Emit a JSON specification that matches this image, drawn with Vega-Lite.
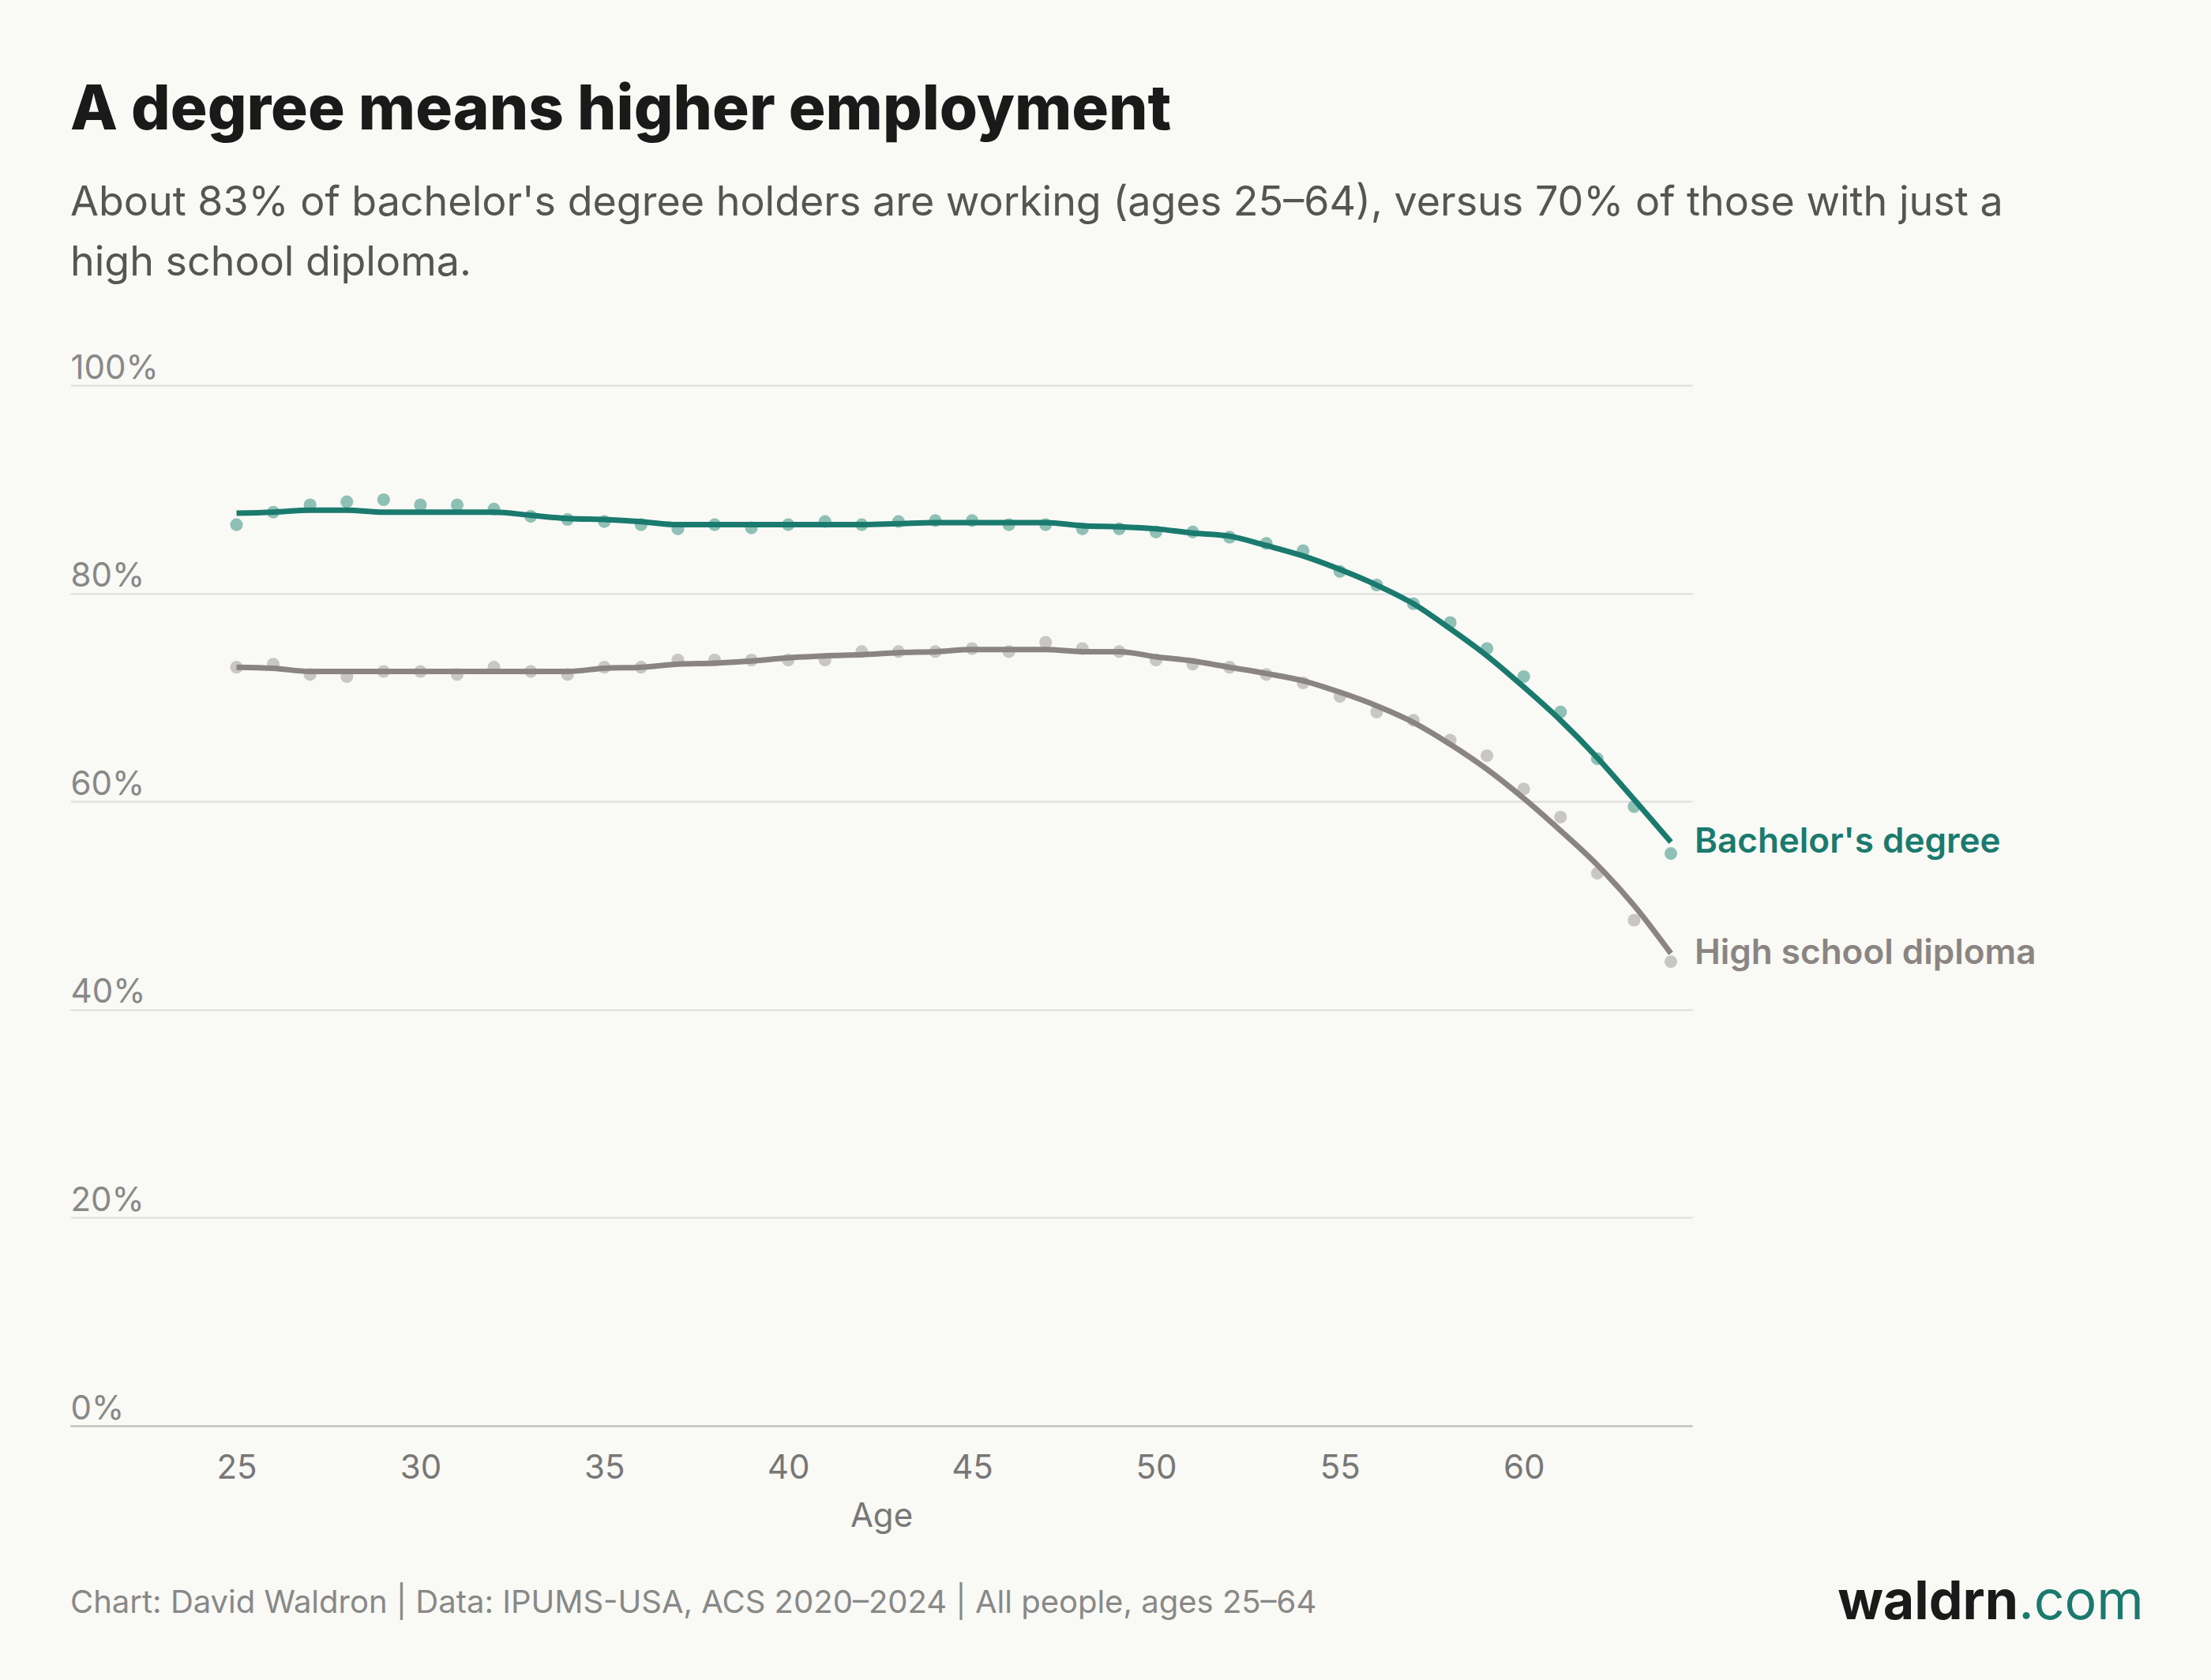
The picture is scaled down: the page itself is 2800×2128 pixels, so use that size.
{
  "$schema": "https://vega.github.io/schema/vega-lite/v6.json",
  "width": 2054,
  "height": 1318,
  "autosize": "none",
  "padding": {"left": 89, "top": 488, "right": 657, "bottom": 322},
  "background": "#f9f9f5",
  "title": {
    "text": "A degree means higher employment",
    "subtitle": ["About 83% of bachelor's degree holders are working (ages 25–64), versus 70% of those with just a", "high school diploma."],
    "anchor": "start",
    "frame": "group",
    "font": "Inter",
    "fontSize": 78,
    "fontWeight": 800,
    "color": "#1a1a1a",
    "subtitleFont": "Inter",
    "subtitleFontSize": 52,
    "subtitleColor": "#555555",
    "subtitleLineHeight": 76,
    "subtitlePadding": 52,
    "offset": 86
  },
  "datasets": {
    "emp": [
      {"age": 25, "group": "Bachelor's degree", "obs": 86.6, "fit": 87.7},
      {"age": 26, "group": "Bachelor's degree", "obs": 87.8, "fit": 87.8},
      {"age": 27, "group": "Bachelor's degree", "obs": 88.5, "fit": 88.0},
      {"age": 28, "group": "Bachelor's degree", "obs": 88.8, "fit": 88.0},
      {"age": 29, "group": "Bachelor's degree", "obs": 89.0, "fit": 87.8},
      {"age": 30, "group": "Bachelor's degree", "obs": 88.5, "fit": 87.8},
      {"age": 31, "group": "Bachelor's degree", "obs": 88.5, "fit": 87.8},
      {"age": 32, "group": "Bachelor's degree", "obs": 88.1, "fit": 87.8},
      {"age": 33, "group": "Bachelor's degree", "obs": 87.4, "fit": 87.5},
      {"age": 34, "group": "Bachelor's degree", "obs": 87.1, "fit": 87.2},
      {"age": 35, "group": "Bachelor's degree", "obs": 86.9, "fit": 87.1},
      {"age": 36, "group": "Bachelor's degree", "obs": 86.6, "fit": 86.9},
      {"age": 37, "group": "Bachelor's degree", "obs": 86.2, "fit": 86.6},
      {"age": 38, "group": "Bachelor's degree", "obs": 86.6, "fit": 86.6},
      {"age": 39, "group": "Bachelor's degree", "obs": 86.3, "fit": 86.6},
      {"age": 40, "group": "Bachelor's degree", "obs": 86.6, "fit": 86.6},
      {"age": 41, "group": "Bachelor's degree", "obs": 86.9, "fit": 86.6},
      {"age": 42, "group": "Bachelor's degree", "obs": 86.6, "fit": 86.6},
      {"age": 43, "group": "Bachelor's degree", "obs": 86.9, "fit": 86.7},
      {"age": 44, "group": "Bachelor's degree", "obs": 87.0, "fit": 86.8},
      {"age": 45, "group": "Bachelor's degree", "obs": 87.0, "fit": 86.8},
      {"age": 46, "group": "Bachelor's degree", "obs": 86.6, "fit": 86.8},
      {"age": 47, "group": "Bachelor's degree", "obs": 86.6, "fit": 86.8},
      {"age": 48, "group": "Bachelor's degree", "obs": 86.2, "fit": 86.5},
      {"age": 49, "group": "Bachelor's degree", "obs": 86.2, "fit": 86.4},
      {"age": 50, "group": "Bachelor's degree", "obs": 85.9, "fit": 86.2},
      {"age": 51, "group": "Bachelor's degree", "obs": 85.9, "fit": 85.8},
      {"age": 52, "group": "Bachelor's degree", "obs": 85.4, "fit": 85.5},
      {"age": 53, "group": "Bachelor's degree", "obs": 84.8, "fit": 84.6},
      {"age": 54, "group": "Bachelor's degree", "obs": 84.1, "fit": 83.6},
      {"age": 55, "group": "Bachelor's degree", "obs": 82.1, "fit": 82.3},
      {"age": 56, "group": "Bachelor's degree", "obs": 80.8, "fit": 80.8},
      {"age": 57, "group": "Bachelor's degree", "obs": 79.0, "fit": 79.0},
      {"age": 58, "group": "Bachelor's degree", "obs": 77.2, "fit": 76.6},
      {"age": 59, "group": "Bachelor's degree", "obs": 74.7, "fit": 74.0},
      {"age": 60, "group": "Bachelor's degree", "obs": 72.0, "fit": 71.0},
      {"age": 61, "group": "Bachelor's degree", "obs": 68.6, "fit": 67.8},
      {"age": 62, "group": "Bachelor's degree", "obs": 64.1, "fit": 64.2},
      {"age": 63, "group": "Bachelor's degree", "obs": 59.5, "fit": 60.2},
      {"age": 64, "group": "Bachelor's degree", "obs": 55.0, "fit": 56.1},
      {"age": 25, "group": "High school diploma", "obs": 72.9, "fit": 72.9},
      {"age": 26, "group": "High school diploma", "obs": 73.2, "fit": 72.8},
      {"age": 27, "group": "High school diploma", "obs": 72.2, "fit": 72.5},
      {"age": 28, "group": "High school diploma", "obs": 72.0, "fit": 72.5},
      {"age": 29, "group": "High school diploma", "obs": 72.5, "fit": 72.5},
      {"age": 30, "group": "High school diploma", "obs": 72.5, "fit": 72.5},
      {"age": 31, "group": "High school diploma", "obs": 72.2, "fit": 72.5},
      {"age": 32, "group": "High school diploma", "obs": 72.9, "fit": 72.5},
      {"age": 33, "group": "High school diploma", "obs": 72.5, "fit": 72.5},
      {"age": 34, "group": "High school diploma", "obs": 72.2, "fit": 72.5},
      {"age": 35, "group": "High school diploma", "obs": 72.9, "fit": 72.8},
      {"age": 36, "group": "High school diploma", "obs": 72.9, "fit": 72.9},
      {"age": 37, "group": "High school diploma", "obs": 73.6, "fit": 73.2},
      {"age": 38, "group": "High school diploma", "obs": 73.6, "fit": 73.3},
      {"age": 39, "group": "High school diploma", "obs": 73.6, "fit": 73.5},
      {"age": 40, "group": "High school diploma", "obs": 73.6, "fit": 73.8},
      {"age": 41, "group": "High school diploma", "obs": 73.6, "fit": 74.0},
      {"age": 42, "group": "High school diploma", "obs": 74.4, "fit": 74.1},
      {"age": 43, "group": "High school diploma", "obs": 74.4, "fit": 74.3},
      {"age": 44, "group": "High school diploma", "obs": 74.4, "fit": 74.4},
      {"age": 45, "group": "High school diploma", "obs": 74.7, "fit": 74.6},
      {"age": 46, "group": "High school diploma", "obs": 74.4, "fit": 74.6},
      {"age": 47, "group": "High school diploma", "obs": 75.3, "fit": 74.6},
      {"age": 48, "group": "High school diploma", "obs": 74.7, "fit": 74.4},
      {"age": 49, "group": "High school diploma", "obs": 74.4, "fit": 74.4},
      {"age": 50, "group": "High school diploma", "obs": 73.6, "fit": 73.9},
      {"age": 51, "group": "High school diploma", "obs": 73.2, "fit": 73.5},
      {"age": 52, "group": "High school diploma", "obs": 72.9, "fit": 72.9},
      {"age": 53, "group": "High school diploma", "obs": 72.2, "fit": 72.3},
      {"age": 54, "group": "High school diploma", "obs": 71.4, "fit": 71.6},
      {"age": 55, "group": "High school diploma", "obs": 70.1, "fit": 70.5},
      {"age": 56, "group": "High school diploma", "obs": 68.6, "fit": 69.2},
      {"age": 57, "group": "High school diploma", "obs": 67.8, "fit": 67.6},
      {"age": 58, "group": "High school diploma", "obs": 65.9, "fit": 65.5},
      {"age": 59, "group": "High school diploma", "obs": 64.4, "fit": 63.1},
      {"age": 60, "group": "High school diploma", "obs": 61.2, "fit": 60.3},
      {"age": 61, "group": "High school diploma", "obs": 58.5, "fit": 57.2},
      {"age": 62, "group": "High school diploma", "obs": 53.1, "fit": 53.9},
      {"age": 63, "group": "High school diploma", "obs": 48.6, "fit": 50.0},
      {"age": 64, "group": "High school diploma", "obs": 44.6, "fit": 45.4}
    ]
  },
  "data": {"name": "emp"},
  "encoding": {
    "x": {
      "field": "age",
      "type": "quantitative",
      "title": "Age",
      "scale": {"domain": [20.48, 64.58], "nice": false, "zero": false},
      "axis": {
        "values": [25, 30, 35, 40, 45, 50, 55, 60],
        "grid": false,
        "ticks": false,
        "domainColor": "#bbbbbb",
        "domainWidth": 2,
        "labelFontSize": 42,
        "labelColor": "#777777",
        "labelPadding": 33,
        "titleFontSize": 42,
        "titleFontWeight": "normal",
        "titleColor": "#777777",
        "titlePadding": 20
      }
    },
    "y": {
      "field": "fit",
      "type": "quantitative",
      "title": null,
      "scale": {"domain": [0, 100], "nice": false},
      "axis": {
        "values": [0, 20, 40, 60, 80, 100],
        "labelExpr": "datum.value + '%'",
        "domain": false,
        "ticks": false,
        "gridColor": "#dddddd",
        "gridWidth": 2,
        "labelAlign": "left",
        "labelBaseline": "bottom",
        "labelPadding": 0,
        "labelDy": -10,
        "labelFontSize": 42,
        "labelColor": "#888888"
      }
    },
    "color": {
      "field": "group",
      "type": "nominal",
      "legend": null,
      "scale": {"domain": ["Bachelor's degree", "High school diploma"], "range": ["#1a7a6e", "#8a8582"]}
    }
  },
  "layer": [
    {
      "mark": {"type": "circle", "size": 260, "opacity": 1},
      "encoding": {
        "y": {"field": "obs", "type": "quantitative"},
        "color": {
          "field": "group",
          "type": "nominal",
          "legend": null,
          "scale": {"domain": ["Bachelor's degree", "High school diploma"], "range": ["#8fc0b6", "#c9c7c3"]}
        }
      }
    },
    {
      "mark": {"type": "line", "strokeWidth": 7, "interpolate": "monotone"},
      "encoding": {"detail": {"field": "group"}}
    },
    {
      "transform": [{"filter": "datum.age == 64"}],
      "mark": {"type": "text", "align": "left", "dx": 30, "fontSize": 44, "fontWeight": 600, "font": "Inter"},
      "encoding": {"text": {"field": "group"}}
    },
    {
      "data": {"values": [{"x": 20.48, "y": -17.1, "t": "Chart: David Waldron | Data: IPUMS-USA, ACS 2020–2024 | All people, ages 25–64"}]},
      "mark": {"type": "text", "align": "left", "fontSize": 40, "font": "Inter"},
      "encoding": {"x": {"field": "x", "type": "quantitative"}, "y": {"field": "y", "type": "quantitative"}, "text": {"field": "t"}, "color": {"value": "#888888"}}
    },
    {
      "data": {"values": [{"x": 73.45, "y": -17.1, "t": "waldrn"}]},
      "mark": {"type": "text", "align": "right", "fontSize": 68, "fontWeight": 700, "font": "Inter"},
      "encoding": {"x": {"field": "x", "type": "quantitative"}, "y": {"field": "y", "type": "quantitative"}, "text": {"field": "t"}, "color": {"value": "#1a1a1a"}}
    },
    {
      "data": {"values": [{"x": 73.45, "y": -17.1, "t": ".com"}]},
      "mark": {"type": "text", "align": "left", "fontSize": 68, "fontWeight": 400, "font": "Inter"},
      "encoding": {"x": {"field": "x", "type": "quantitative"}, "y": {"field": "y", "type": "quantitative"}, "text": {"field": "t"}, "color": {"value": "#1a7a6e"}}
    }
  ],
  "resolve": {"scale": {"color": "independent"}},
  "config": {
    "view": {"stroke": null},
    "font": "Inter"
  }
}
